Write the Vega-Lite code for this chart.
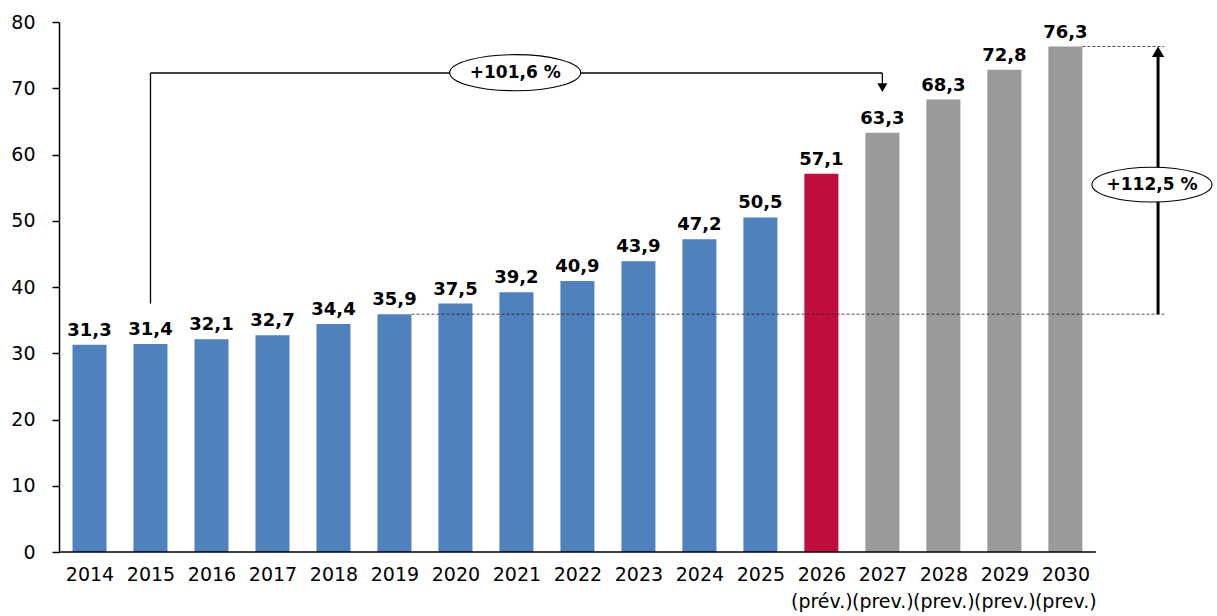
{
  "$schema": "https://vega.github.io/schema/vega-lite/v6.json",
  "autosize": "none",
  "width": 1157,
  "height": 530,
  "padding": {"left": 59, "top": 22, "right": 1, "bottom": 64},
  "background": "white",
  "config": {"view": {"stroke": null}, "font": "DejaVu Sans"},
  "datasets": {
    "bars": [
      {"year": 2014, "value": 31.3, "label": "31,3", "kind": "obs"},
      {"year": 2015, "value": 31.4, "label": "31,4", "kind": "obs"},
      {"year": 2016, "value": 32.1, "label": "32,1", "kind": "obs"},
      {"year": 2017, "value": 32.7, "label": "32,7", "kind": "obs"},
      {"year": 2018, "value": 34.4, "label": "34,4", "kind": "obs"},
      {"year": 2019, "value": 35.9, "label": "35,9", "kind": "obs"},
      {"year": 2020, "value": 37.5, "label": "37,5", "kind": "obs"},
      {"year": 2021, "value": 39.2, "label": "39,2", "kind": "obs"},
      {"year": 2022, "value": 40.9, "label": "40,9", "kind": "obs"},
      {"year": 2023, "value": 43.9, "label": "43,9", "kind": "obs"},
      {"year": 2024, "value": 47.2, "label": "47,2", "kind": "obs"},
      {"year": 2025, "value": 50.5, "label": "50,5", "kind": "obs"},
      {"year": 2026, "value": 57.1, "label": "57,1", "kind": "cur"},
      {"year": 2027, "value": 63.3, "label": "63,3", "kind": "prev"},
      {"year": 2028, "value": 68.3, "label": "68,3", "kind": "prev"},
      {"year": 2029, "value": 72.8, "label": "72,8", "kind": "prev"},
      {"year": 2030, "value": 76.3, "label": "76,3", "kind": "prev"}
    ],
    "baseline": [{"x1": 2013.5, "x2": 2030.5, "y": 0}],
    "dashes": [
      {"x1": 2019.28, "x2": 2031.62, "y": 35.9},
      {"x1": 2030.28, "x2": 2031.62, "y": 76.3}
    ],
    "connector": [
      {"x1": 2015, "x2": 2015, "y1": 37.5, "y2": 72.3},
      {"x1": 2015, "x2": 2027, "y1": 72.3, "y2": 72.3},
      {"x1": 2027, "x2": 2027, "y1": 72.3, "y2": 70.4}
    ],
    "arrowDown": [{"x": 2027, "y": 70.1}],
    "bigArrow": [{"x1": 2031.52, "x2": 2031.52, "y1": 35.9, "y2": 75.0}],
    "arrowUp": [{"x": 2031.52, "y": 75.5}],
    "ellipse1": [{"x": 2020.98, "y": 72.35, "t": "+101,6 %"}],
    "ellipse2": [{"x": 2031.42, "y": 55.45, "t": "+112,5 %"}]
  },
  "layer": [
    {
      "data": {"name": "bars"},
      "mark": {"type": "bar", "width": 34},
      "encoding": {
        "x": {
          "field": "year", "type": "quantitative",
          "scale": {"domain": [2013.5, 2032.47], "nice": false, "zero": false, "padding": 0},
          "axis": {
            "values": [2014, 2015, 2016, 2017, 2018, 2019, 2020, 2021, 2022, 2023, 2024, 2025, 2026, 2027, 2028, 2029, 2030],
            "format": "d",
            "labelExpr": "datum.value == 2026 ? ['2026', '(prév.)'] : (datum.value > 2026 ? [datum.label, '(prev.)'] : datum.label)",
            "domain": false, "ticks": false, "grid": false, "title": null,
            "labelFontSize": 19, "labelColor": "#000", "labelPadding": 13,
            "labelLineHeight": 27, "labelOverlap": false, "labelBound": false, "labelFlush": false
          }
        },
        "y": {
          "field": "value", "type": "quantitative",
          "scale": {"domain": [0, 80], "nice": false},
          "axis": {
            "values": [0, 10, 20, 30, 40, 50, 60, 70, 80],
            "grid": false, "title": null,
            "domainColor": "#000", "domainWidth": 1.5,
            "tickColor": "#000", "tickSize": 7, "tickWidth": 1.5,
            "labelFontSize": 19, "labelColor": "#000", "labelPadding": 17
          }
        },
        "color": {
          "field": "kind", "type": "nominal",
          "scale": {"domain": ["obs", "cur", "prev"], "range": ["#4F81BD", "#C00D3E", "#9a9a9a"]},
          "legend": null
        }
      }
    },
    {
      "data": {"name": "bars"},
      "mark": {"type": "text", "baseline": "bottom", "dy": -5, "fontSize": 18, "fontWeight": "bold", "color": "#000"},
      "encoding": {
        "x": {"field": "year", "type": "quantitative"},
        "y": {"field": "value", "type": "quantitative"},
        "text": {"field": "label"}
      }
    },
    {
      "data": {"name": "baseline"},
      "mark": {"type": "rule", "color": "#000", "strokeWidth": 1.5},
      "encoding": {
        "x": {"field": "x1", "type": "quantitative"},
        "x2": {"field": "x2"},
        "y": {"field": "y", "type": "quantitative"}
      }
    },
    {
      "data": {"name": "dashes"},
      "mark": {"type": "rule", "color": "#222", "strokeWidth": 0.8, "strokeDash": [3, 2]},
      "encoding": {
        "x": {"field": "x1", "type": "quantitative"},
        "x2": {"field": "x2"},
        "y": {"field": "y", "type": "quantitative"}
      }
    },
    {
      "data": {"name": "connector"},
      "mark": {"type": "rule", "color": "#000", "strokeWidth": 1.3},
      "encoding": {
        "x": {"field": "x1", "type": "quantitative"},
        "x2": {"field": "x2"},
        "y": {"field": "y1", "type": "quantitative"},
        "y2": {"field": "y2"}
      }
    },
    {
      "data": {"name": "arrowDown"},
      "mark": {"type": "point", "shape": "triangle-down", "filled": true, "size": 100, "color": "#000", "opacity": 1},
      "encoding": {
        "x": {"field": "x", "type": "quantitative"},
        "y": {"field": "y", "type": "quantitative"}
      }
    },
    {
      "data": {"name": "bigArrow"},
      "mark": {"type": "rule", "color": "#000", "strokeWidth": 3},
      "encoding": {
        "x": {"field": "x1", "type": "quantitative"},
        "x2": {"field": "x2"},
        "y": {"field": "y1", "type": "quantitative"},
        "y2": {"field": "y2"}
      }
    },
    {
      "data": {"name": "arrowUp"},
      "mark": {"type": "point", "shape": "triangle-up", "filled": true, "size": 150, "color": "#000", "opacity": 1},
      "encoding": {
        "x": {"field": "x", "type": "quantitative"},
        "y": {"field": "y", "type": "quantitative"}
      }
    },
    {
      "data": {"name": "ellipse1"},
      "mark": {"type": "point", "shape": "M-1,0A1,0.275,0,1,1,1,0A1,0.275,0,1,1,-1,0Z", "size": 17161, "filled": false, "fill": "white", "fillOpacity": 1, "stroke": "#000", "strokeWidth": 1.1, "opacity": 1},
      "encoding": {
        "x": {"field": "x", "type": "quantitative"},
        "y": {"field": "y", "type": "quantitative"}
      }
    },
    {
      "data": {"name": "ellipse1"},
      "mark": {"type": "text", "fontSize": 17, "fontWeight": "bold", "color": "#000", "baseline": "middle", "align": "center"},
      "encoding": {
        "x": {"field": "x", "type": "quantitative"},
        "y": {"field": "y", "type": "quantitative"},
        "text": {"field": "t"}
      }
    },
    {
      "data": {"name": "ellipse2"},
      "mark": {"type": "point", "shape": "M-1,0A1,0.29,0,1,1,1,0A1,0.29,0,1,1,-1,0Z", "size": 14400, "filled": false, "fill": "white", "fillOpacity": 1, "stroke": "#000", "strokeWidth": 1.1, "opacity": 1},
      "encoding": {
        "x": {"field": "x", "type": "quantitative"},
        "y": {"field": "y", "type": "quantitative"}
      }
    },
    {
      "data": {"name": "ellipse2"},
      "mark": {"type": "text", "fontSize": 17, "fontWeight": "bold", "color": "#000", "baseline": "middle", "align": "center"},
      "encoding": {
        "x": {"field": "x", "type": "quantitative"},
        "y": {"field": "y", "type": "quantitative"},
        "text": {"field": "t"}
      }
    }
  ]
}
